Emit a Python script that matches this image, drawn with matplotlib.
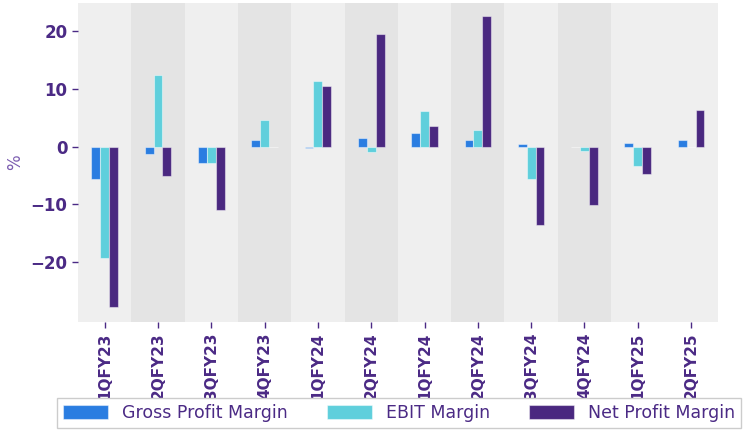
import matplotlib
matplotlib.use('Agg')
import matplotlib.pyplot as plt
import numpy as np

# quarter labels as shown on the x axis
quarters = ['1QFY23', '2QFY23', '3QFY23', '4QFY23', '1QFY24', '2QFY24',
            '1QFY24', '2QFY24', '3QFY24', '4QFY24', '1QFY25', '2QFY25']

gross_margin = [-5.6, -1.2, -2.8, 1.2, -0.2, 1.5, 2.3, 1.2, 0.5, -0.1, 0.7, 1.2]
ebit_margin = [-19.3, 12.4, -2.8, 4.7, 11.3, -0.9, 6.2, 2.9, -5.6, -0.7, -3.4, 0.0]
net_margin = [-27.8, -5.0, -10.9, 0.0, 10.6, 19.5, 3.6, 22.6, -13.5, -10.1, -4.7, 6.3]

series_names = ['Gross Profit Margin', 'EBIT Margin', 'Net Profit Margin']
series_colors = ['#2a7de1', '#5fcfdc', '#4a2880']

text_color = '#4b2a85'

fig = plt.figure(figsize=(7.43, 4.30), dpi=100)
ax = fig.add_axes([0.105, 0.251, 0.861, 0.742])
ax.set_facecolor('#efefef')

x = np.arange(len(quarters))
width = 0.5 / 3

# alternating darker bands
for i in [1, 3, 5, 7, 9]:
    ax.axvspan(i - 0.5, i + 0.5, color='#e4e4e4', zorder=0, lw=0)

for k, (vals, name, col) in enumerate(zip([gross_margin, ebit_margin, net_margin],
                                          series_names, series_colors)):
    ax.bar(x + (k - 1) * width, vals, width, color=col, label=name,
           edgecolor=(1, 1, 1, 0.45), linewidth=0.8, zorder=2)

ax.set_xlim(-0.5, len(quarters) - 0.5)
ax.set_ylim(-30.4, 24.9)
ax.set_yticks([-20, -10, 0, 10, 20])
ax.set_xticks(x)
ax.set_xticklabels(quarters, rotation=90, fontsize=11, fontweight='bold', color=text_color)
for lbl in ax.get_yticklabels():
    lbl.set_fontsize(12)
    lbl.set_fontweight('bold')
    lbl.set_color(text_color)
ax.tick_params(axis='both', colors=text_color, length=4, width=1)
ax.set_ylabel('%', color='#7b5cb0', fontsize=12)
ax.yaxis.set_label_coords(-0.085, 0.5)

for s in ax.spines.values():
    s.set_visible(False)

leg = fig.legend(loc='lower left', bbox_to_anchor=(0.077, 0.004, 0.92, 0.077),
                 ncol=3, mode='expand', fontsize=12.5, frameon=True, fancybox=False,
                 handlelength=2.6, handleheight=0.9, borderaxespad=0.0,
                 handletextpad=0.8, columnspacing=1.5, borderpad=0.35)
leg.get_frame().set_edgecolor('#cccccc')
leg.get_frame().set_facecolor('white')
leg.get_frame().set_alpha(1.0)
for t in leg.get_texts():
    t.set_color(text_color)

fig.savefig('out.png', dpi=100)
